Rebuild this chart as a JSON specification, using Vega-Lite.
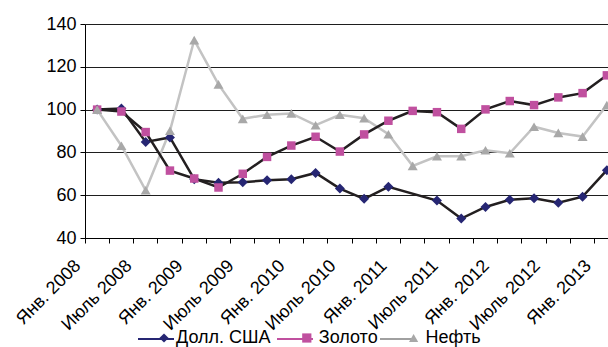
{
  "$schema": "https://vega.github.io/schema/vega-lite/v6.json",
  "autosize": "none",
  "width": 523,
  "height": 214,
  "padding": {"left": 85, "top": 24, "right": 0, "bottom": 109},
  "background": "white",
  "config": {
    "view": {"stroke": null},
    "font": "Liberation Sans",
    "axis": {"labelFont": "Liberation Sans", "labelColor": "black", "domainColor": "black", "tickColor": "black", "domainWidth": 1, "tickWidth": 1}
  },
  "data": {
    "values": [
      {"period": "2008-01", "series": "Долл. США", "value": 100},
      {"period": "2008-01", "series": "Золото", "value": 100},
      {"period": "2008-01", "series": "Нефть", "value": 100},
      {"period": "2008-04", "series": "Долл. США", "value": 100.5},
      {"period": "2008-04", "series": "Золото", "value": 99.1},
      {"period": "2008-04", "series": "Нефть", "value": 83.1},
      {"period": "2008-07", "series": "Долл. США", "value": 84.9},
      {"period": "2008-07", "series": "Золото", "value": 89.5},
      {"period": "2008-07", "series": "Нефть", "value": 62.3},
      {"period": "2008-10", "series": "Долл. США", "value": 87},
      {"period": "2008-10", "series": "Золото", "value": 71.5},
      {"period": "2008-10", "series": "Нефть", "value": 90.1},
      {"period": "2009-01", "series": "Долл. США", "value": 67.5},
      {"period": "2009-01", "series": "Золото", "value": 67.8},
      {"period": "2009-01", "series": "Нефть", "value": 132.5},
      {"period": "2009-04", "series": "Долл. США", "value": 65.8},
      {"period": "2009-04", "series": "Золото", "value": 63.6},
      {"period": "2009-04", "series": "Нефть", "value": 111.8},
      {"period": "2009-07", "series": "Долл. США", "value": 66},
      {"period": "2009-07", "series": "Золото", "value": 70},
      {"period": "2009-07", "series": "Нефть", "value": 95.7},
      {"period": "2009-10", "series": "Долл. США", "value": 67},
      {"period": "2009-10", "series": "Золото", "value": 77.9},
      {"period": "2009-10", "series": "Нефть", "value": 97.6},
      {"period": "2010-01", "series": "Долл. США", "value": 67.5},
      {"period": "2010-01", "series": "Золото", "value": 83.2},
      {"period": "2010-01", "series": "Нефть", "value": 98.2},
      {"period": "2010-04", "series": "Долл. США", "value": 70.4},
      {"period": "2010-04", "series": "Золото", "value": 87.3},
      {"period": "2010-04", "series": "Нефть", "value": 92.7},
      {"period": "2010-07", "series": "Долл. США", "value": 63.1},
      {"period": "2010-07", "series": "Золото", "value": 80.4},
      {"period": "2010-07", "series": "Нефть", "value": 97.6},
      {"period": "2010-10", "series": "Долл. США", "value": 58.3},
      {"period": "2010-10", "series": "Золото", "value": 88.4},
      {"period": "2010-10", "series": "Нефть", "value": 96},
      {"period": "2011-01", "series": "Долл. США", "value": 63.9},
      {"period": "2011-01", "series": "Золото", "value": 94.8},
      {"period": "2011-01", "series": "Нефть", "value": 88.5},
      {"period": "2011-04", "series": "Золото", "value": 99.4},
      {"period": "2011-04", "series": "Нефть", "value": 73.7},
      {"period": "2011-07", "series": "Долл. США", "value": 57.5},
      {"period": "2011-07", "series": "Золото", "value": 98.8},
      {"period": "2011-07", "series": "Нефть", "value": 78.2},
      {"period": "2011-10", "series": "Долл. США", "value": 49.1},
      {"period": "2011-10", "series": "Золото", "value": 91},
      {"period": "2011-10", "series": "Нефть", "value": 78.2},
      {"period": "2012-01", "series": "Долл. США", "value": 54.5},
      {"period": "2012-01", "series": "Золото", "value": 100.1},
      {"period": "2012-01", "series": "Нефть", "value": 81},
      {"period": "2012-04", "series": "Долл. США", "value": 57.9},
      {"period": "2012-04", "series": "Золото", "value": 104},
      {"period": "2012-04", "series": "Нефть", "value": 79.6},
      {"period": "2012-07", "series": "Долл. США", "value": 58.6},
      {"period": "2012-07", "series": "Золото", "value": 102.1},
      {"period": "2012-07", "series": "Нефть", "value": 92},
      {"period": "2012-10", "series": "Долл. США", "value": 56.5},
      {"period": "2012-10", "series": "Золото", "value": 105.7},
      {"period": "2012-10", "series": "Нефть", "value": 89.1},
      {"period": "2013-01", "series": "Долл. США", "value": 59.3},
      {"period": "2013-01", "series": "Золото", "value": 107.7},
      {"period": "2013-01", "series": "Нефть", "value": 87.4},
      {"period": "2013-04", "series": "Долл. США", "value": 71.7},
      {"period": "2013-04", "series": "Золото", "value": 116},
      {"period": "2013-04", "series": "Нефть", "value": 102.1}
    ]
  },
  "encoding": {
    "x": {
      "field": "period",
      "type": "ordinal",
      "sort": "ascending",
      "scale": {"type": "band", "paddingInner": 0, "paddingOuter": 0, "rangeMax": 534},
      "axis": {
        "title": null,
        "bandPosition": 0,
        "labelAngle": -45,
        "labelAlign": "right",
        "labelBaseline": "middle",
        "labelFontSize": 18,
        "labelPadding": 20,
        "labelOverlap": false,
        "labelBound": false,
        "labelFlush": false,
        "tickSize": 5,
        "grid": false,
        "labelExpr": "slice(datum.value,5,7)=='01' ? 'Янв. ' + slice(datum.value,0,4) : (slice(datum.value,5,7)=='07' ? 'Июль ' + slice(datum.value,0,4) : '')",
        "labelOffset": {"expr": "-19 + 1.25 * ((toNumber(slice(datum.value,0,4)) - 2008) * 4 + (toNumber(slice(datum.value,5,7)) - 1) / 3)"}
      }
    },
    "y": {
      "field": "value",
      "type": "quantitative",
      "scale": {"domain": [40, 140], "nice": false, "zero": false},
      "axis": {
        "title": null,
        "values": [40, 60, 80, 100, 120, 140],
        "labelFontSize": 18,
        "labelPadding": 4,
        "tickSize": 5,
        "grid": true,
        "gridColor": "#1e1e1e",
        "gridWidth": 1,
        "gridOpacity": 1
      }
    }
  },
  "layer": [
    {
      "mark": {"type": "point", "opacity": 0},
      "encoding": {
        "stroke": {
          "field": "series",
          "type": "nominal",
          "scale": {"domain": ["Долл. США", "Золото", "Нефть", "·"], "range": ["#262673", "#c0509f", "#a0a0a0", "#ffffff"]},
          "legend": {
            "title": null,
            "values": ["Долл. США", "Золото", "Нефть"],
            "orient": "none",
            "direction": "horizontal",
            "legendX": 52,
            "legendY": 296,
            "padding": 0,
            "columnPadding": 0,
            "labelOffset": 3,
            "labelFontSize": 18,
            "labelFont": "Liberation Sans",
            "labelOpacity": 0,
            "symbolType": "stroke",
            "symbolSize": 1296,
            "symbolStrokeWidth": 2,
            "symbolOpacity": 1
          }
        }
      }
    },
    {
      "transform": [{"filter": "datum.series == 'Нефть'"}],
      "mark": {"type": "line", "color": "#c3c3c3", "strokeWidth": 2.5}
    },
    {
      "transform": [{"filter": "datum.series != 'Нефть'"}],
      "mark": {"type": "line", "color": "#231f20", "strokeWidth": 2.5},
      "encoding": {"detail": {"field": "series", "type": "nominal"}}
    },
    {
      "mark": {"type": "point", "filled": true, "opacity": 1},
      "encoding": {
        "color": {
          "field": "series",
          "type": "nominal",
          "scale": {"domain": ["Долл. США", "Золото", "Нефть"], "range": ["#262673", "#c0509f", "#a8a8a8"]},
          "legend": {
            "title": null,
            "orient": "none",
            "direction": "horizontal",
            "legendX": 70,
            "legendY": 305,
            "padding": 0,
            "columnPadding": 26.8,
            "labelOffset": 3,
            "labelFontSize": 18,
            "labelFont": "Liberation Sans",
            "labelColor": "black",
            "symbolSize": 85,
            "symbolOpacity": 1
          }
        },
        "shape": {
          "field": "series",
          "type": "nominal",
          "scale": {"domain": ["Долл. США", "Золото", "Нефть"], "range": ["diamond", "square", "triangle-up"]}
        },
        "size": {
          "condition": {"test": "datum.series == 'Золото'", "value": 72},
          "value": 100
        }
      }
    }
  ]
}
